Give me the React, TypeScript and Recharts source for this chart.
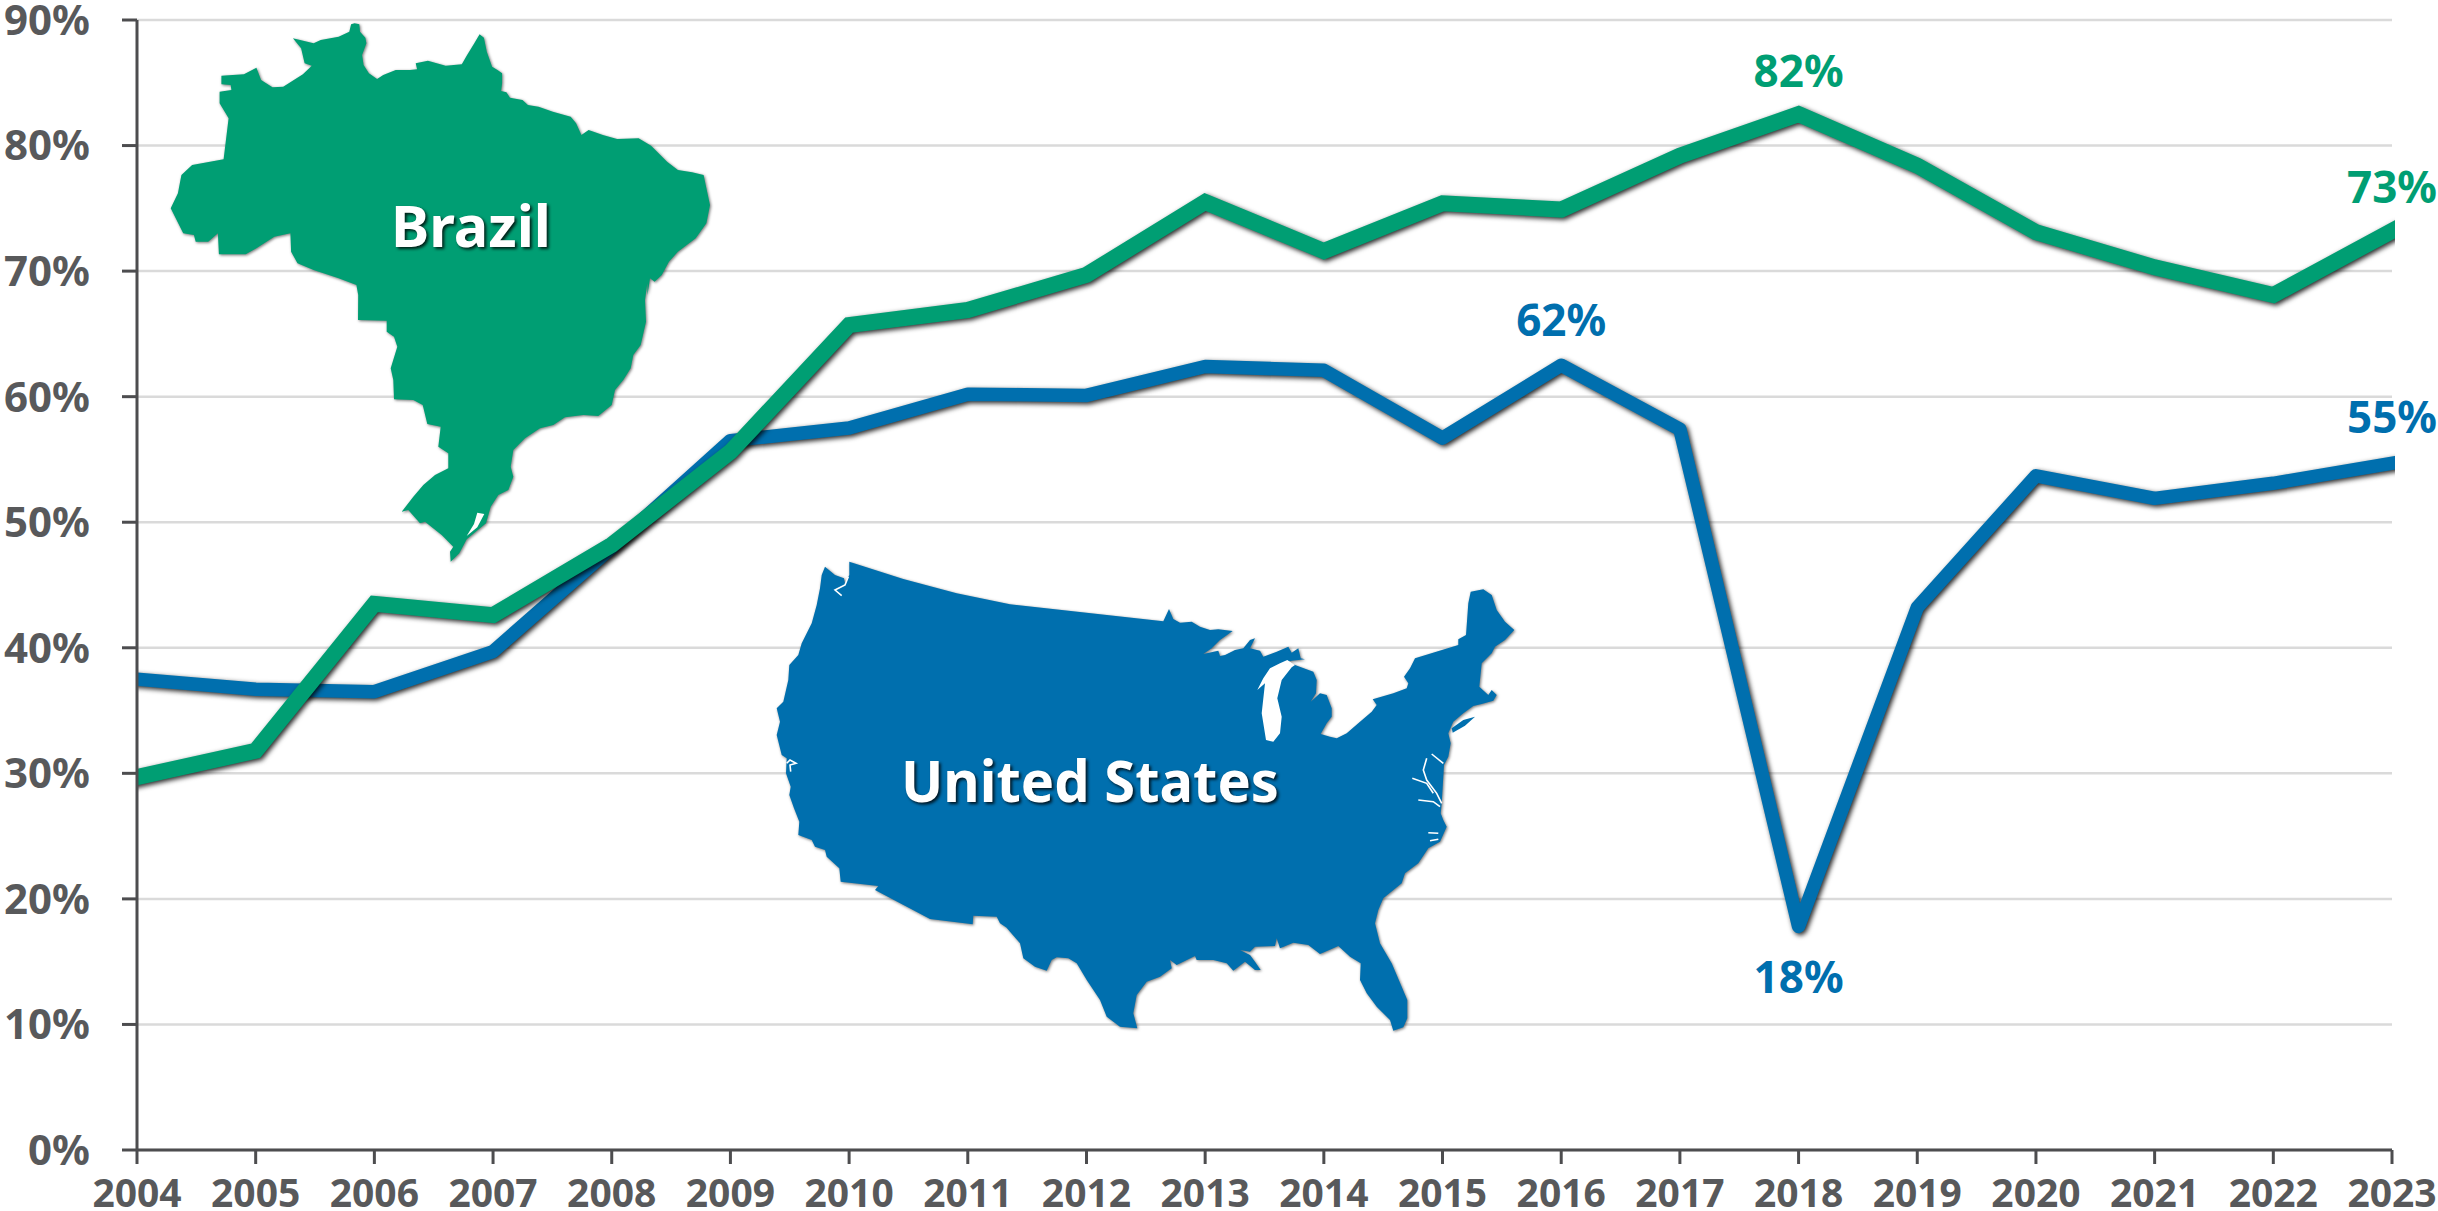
import React from 'react'
import { LineChart, Line, XAxis, YAxis, CartesianGrid, Customized } from 'recharts'

const years = [2004, 2005, 2006, 2007, 2008, 2009, 2010, 2011, 2012, 2013, 2014, 2015, 2016, 2017, 2018, 2019, 2020, 2021, 2022, 2023]
const unitedStates = [37.5, 36.7, 36.5, 39.7, 48, 56.5, 57.5, 60.2, 60.1, 62.4, 62.1, 56.7, 62.5, 57.4, 17.8, 43.2, 53.7, 51.9, 53.1, 54.7]
const brazil = [29.7, 31.8, 43.5, 42.6, 48.2, 55.6, 65.7, 66.9, 69.7, 75.5, 71.6, 75.4, 74.9, 79.2, 82.5, 78.4, 73.1, 70.3, 68.1, 73.2]
const yTicks = [0, 10, 20, 30, 40, 50, 60, 70, 80, 90]

// year -> label, with distance of the baseline from the point
const brazilLabels: Record<number, [string, number]> = { 2018: ['82%', -27], 2023: ['73%', -28] }
const usLabels: Record<number, [string, number]> = { 2016: ['62%', -29], 2018: ['18%', 66], 2023: ['55%', -30] }

const GREEN = '#009e73'
const BLUE = '#006fae'
const GREY = '#58595b'
const AXIS = '#4d4d4f'
const FONT = '"Noto Sans", sans-serif'
const LINE_SHADOW = 'drop-shadow(2.5px 2.5px 2.5px rgba(0,0,0,0.85))'
const TEXT_SHADOW = 'drop-shadow(2px 2px 1.5px rgba(0,0,0,0.8))'
const MAP_SHADOW = 'drop-shadow(1px 1px 1.5px rgba(0,0,0,0.55))'

const data = years.map((year, i) => ({ year, us: unitedStates[i], brazil: brazil[i] }))

type Pts = number[][]

const crop = (pts: Pts, sx: number, sy: number, ox: number, oy: number): Pts =>
  pts.map(([x, y]) => [x / sx + ox, y / sy + oy])
const toPath = (pts: Pts, close = true) =>
  pts.map(([x, y], i) => `${i ? 'L' : 'M'}${x.toFixed(1)} ${y.toFixed(1)}`).join('') + (close ? 'Z' : '')

const brNorthEast = [
  [535, 28], [545, 25], [558, 28], [560, 50], [575, 68], [578, 85], [566, 120], [570, 150], [585, 175], [608, 192],
  [625, 180], [660, 165], [700, 165], [720, 163], [716, 145], [750, 137], [775, 145], [800, 152], [845, 148], [860, 120],
  [880, 85], [895, 58], [907, 68], [915, 110], [930, 155], [945, 165], [958, 175], [958, 205], [955, 228], [970, 232],
  [980, 248], [1015, 255], [1030, 270], [1060, 275], [1100, 290], [1150, 305], [1165, 325], [1180, 360], [1200, 345], [1240, 360],
  [1280, 372], [1340, 370], [1375, 392], [1420, 440], [1450, 465], [1490, 472], [1522, 480], [1530, 520], [1540, 570], [1530, 625],
  [1500, 670], [1450, 710], [1425, 740], [1405, 780], [1385, 800], [1372, 790], [1365, 840],
]
const brSouth = [
  [832, 10], [825, 60], [828, 125], [812, 195], [790, 225], [782, 265], [760, 300], [735, 330], [725, 375], [685, 408],
  [640, 405], [585, 412], [550, 435], [510, 445], [465, 475], [430, 510], [422, 560], [430, 590], [415, 630], [385, 645],
  [362, 680], [348, 730], [290, 778], [268, 820], [242, 845], [240, 815], [250, 800], [215, 765], [165, 725], [150, 730],
  [115, 690], [95, 695], [130, 650], [160, 615], [195, 585], [235, 565], [235, 520], [205, 500], [212, 440], [172, 432],
  [158, 375], [130, 360], [72, 358], [70, 300], [62, 265], [82, 200], [72, 170], [50, 155], [50, 122], [-36, 120],
]
const brNorthWest = [
  [555, 840], [550, 810], [500, 790], [430, 765], [385, 745], [367, 710], [365, 655], [320, 665], [270, 700], [240, 718],
  [165, 718], [162, 655], [135, 680], [100, 680], [95, 660], [65, 655], [30, 580], [50, 535], [60, 480], [90, 450],
  [178, 433], [192, 310], [167, 265], [167, 230], [200, 225], [198, 210], [172, 208], [172, 182], [235, 178], [270, 158],
  [283, 195], [315, 217], [345, 215], [400, 178], [425, 152], [405, 145], [395, 100], [372, 70], [430, 85], [450, 75],
  [500, 65], [530, 50],
]
const brLagoon = [[322, 698], [343, 702], [322, 742], [290, 768], [312, 732]]

const usNorthEast = [
  [0, 128], [35, 125], [60, 140], [90, 150], [115, 148], [158, 153], [120, 180], [95, 205], [70, 222], [115, 212],
  [120, 228], [135, 225], [165, 210], [190, 205], [210, 180], [225, 175], [210, 205], [240, 212], [250, 230], [290, 215],
  [325, 200], [335, 218], [355, 205], [362, 235], [375, 238], [335, 242], [322, 245], [345, 255], [400, 275], [410, 300],
  [408, 340], [392, 365], [420, 340], [440, 345], [455, 385], [455, 410], [440, 430], [422, 462], [450, 470], [470, 475],
  [500, 460], [540, 425], [575, 395], [590, 375], [578, 358], [640, 340], [680, 325], [685, 310], [672, 290], [690, 265],
  [705, 235], [835, 195], [835, 178], [858, 165], [865, 70], [872, 35], [910, 28], [935, 45], [950, 90], [975, 125],
  [1003, 150], [975, 180], [945, 200], [935, 220], [905, 250], [898, 320], [925, 345], [935, 330], [950, 345], [940, 362],
  [905, 372], [880, 378], [850, 400], [820, 425], [805, 460], [812, 490], [805, 530], [792, 555], [788, 620], [785, 670], [782, 700],
]
const usSouth = [
  [1330, 0], [1340, 20], [1320, 65], [1285, 85], [1255, 130], [1215, 160], [1205, 190], [1150, 235], [1135, 270], [1125, 310],
  [1140, 370], [1175, 430], [1205, 500], [1222, 540], [1222, 595], [1210, 622], [1180, 632], [1170, 600], [1130, 560], [1100, 520],
  [1080, 480], [1082, 430], [1050, 410], [1015, 378], [1000, 385], [960, 402], [925, 375], [880, 368], [840, 385], [830, 355],
  [825, 378], [765, 380], [750, 395], [720, 390], [750, 405], [765, 425], [782, 450], [765, 450], [735, 425], [700, 452],
  [680, 430], [640, 420], [590, 420], [585, 408], [530, 435], [510, 420], [515, 445], [480, 470], [440, 485], [410, 525],
  [400, 580], [412, 625], [360, 620], [320, 590], [300, 540], [260, 480], [230, 430], [205, 415], [170, 412], [155, 420],
  [140, 452], [105, 440], [70, 415], [60, 370], [30, 335], [0, 300],
]
const usWest = [
  [720, 1125], [690, 1105], [680, 1085], [610, 1082], [608, 1108], [480, 1092], [315, 1005], [325, 993], [212, 980], [208, 940],
  [170, 905], [165, 885], [135, 875], [125, 855], [85, 840], [88, 800], [72, 760], [58, 720], [62, 695], [48, 655],
  [50, 610], [35, 600], [20, 540], [30, 500], [20, 460], [40, 440], [55, 375], [58, 330], [85, 300], [95, 265],
  [125, 205], [140, 150], [150, 100], [155, 60], [165, 35], [195, 60], [222, 70], [225, 85], [238, 60], [238, 20],
  [400, 72], [560, 115], [720, 148], [1180, 199], [1197, 162], [1210, 192],
]
const lakeMichigan = [
  [322, 240], [300, 250], [270, 265], [250, 295], [232, 330], [255, 310], [245, 400], [258, 480], [280, 485], [300, 460],
  [305, 410], [292, 355], [305, 300], [335, 262], [345, 255],
]
const longIsland = [[815, 445], [850, 420], [885, 410], [855, 437], [818, 458]]
const pugetSound = [[235, 65], [225, 90], [195, 105], [215, 122]]
const sanFrancisco = [[50, 625], [60, 615], [78, 625], [60, 630], [62, 650]]
const bays = [
  [[740, 535], [730, 570], [740, 600], [770, 640], [785, 670]],
  [[697, 595], [740, 610], [760, 640]],
  [[715, 660], [760, 665], [780, 680]],
  [[755, 522], [790, 550]],
]
const carolinaInlets = [
  [[1285, 38], [1315, 40]],
  [[1290, 62], [1315, 58]],
]

const brazilOutline = [
  ...crop(brNorthEast, 2.8, 3, 160, 15),
  ...crop(brSouth, 3, 3, 370, 280),
  ...crop(brNorthWest, 2.8, 3, 160, 15),
]
const usOutline = [
  ...crop(usNorthEast, 3, 3, 1180, 580),
  ...crop(usSouth, 3, 3, 1000, 820),
  ...crop(usWest, 3, 3, 770, 555),
]

const Bay = ({ pts }: { pts: Pts }) => <path d={toPath(pts, false)} fill="none" stroke="#fff" strokeWidth={1.6} />

function MapLayer() {
  return (
    <g>
      <defs>
        <clipPath id="plotClip">
          <rect x={137} y={0} width={2258} height={1211} />
        </clipPath>
      </defs>
      <path d={toPath(brazilOutline)} fill={GREEN} style={{ filter: MAP_SHADOW }} />
      <path d={toPath(crop(brLagoon, 3, 3, 370, 280))} fill="#fff" />
      <path d={toPath(usOutline)} fill={BLUE} style={{ filter: MAP_SHADOW }} />
      <path d={toPath(crop(lakeMichigan, 3, 3, 1180, 580))} fill="#fff" />
      <path d={toPath(crop(longIsland, 3, 3, 1180, 580))} fill={BLUE} />
      <Bay pts={crop(pugetSound, 3, 3, 770, 555)} />
      <Bay pts={crop(sanFrancisco, 3, 3, 770, 555)} />
      {bays.map((b, i) => <Bay key={i} pts={crop(b, 3, 3, 1180, 580)} />)}
      {carolinaInlets.map((b, i) => <Bay key={i} pts={crop(b, 3, 3, 1000, 820)} />)}
      <text x={391} y={247} textLength={160} lengthAdjust="spacingAndGlyphs" fontFamily={FONT} fontWeight={700} fontSize={58} fill="#fff" style={{ filter: TEXT_SHADOW }}>
        Brazil
      </text>
      <text x={901} y={801.5} textLength={378} lengthAdjust="spacingAndGlyphs" fontFamily={FONT} fontWeight={700} fontSize={58} fill="#fff" style={{ filter: TEXT_SHADOW }}>
        United States
      </text>
    </g>
  )
}

const pointLabel = (labels: Record<number, [string, number]>, color: string) => (props: any) => {
  const entry = labels[years[props.index]]
  if (!entry) return <g key={props.index} />
  return (
    <text key={props.index} x={props.x} y={props.y + entry[1]} textAnchor="middle" fontFamily={FONT} fontWeight={700} fontSize={44} fill={color}>
      {entry[0]}
    </text>
  )
}

const lineStyle = { filter: LINE_SHADOW, clipPath: 'url(#plotClip)' }

export default function App() {
  return (
    <div style={{ position: 'absolute', left: 0, top: 0, width: 2438, height: 1211, overflow: 'hidden', background: '#fff' }}>
      <LineChart width={2438} height={1211} data={data} margin={{ top: 20, right: 46, bottom: 0, left: 0 }}>
        <CartesianGrid vertical={false} stroke="#dadada" strokeWidth={2.5} />
        <XAxis
          dataKey="year"
          interval={0}
          height={61}
          tickSize={14}
          tickMargin={15}
          tick={{ fontFamily: FONT, fontWeight: 700, fontSize: 39, fill: GREY }}
          axisLine={{ stroke: AXIS, strokeWidth: 3 }}
          tickLine={{ stroke: AXIS, strokeWidth: 3 }}
        />
        <YAxis
          width={137}
          domain={[0, 90]}
          ticks={yTicks}
          interval={0}
          tickSize={15}
          tickMargin={32}
          tickFormatter={(v: number) => `${v}%`}
          tick={{ fontFamily: FONT, fontWeight: 700, fontSize: 42, fill: GREY }}
          axisLine={{ stroke: AXIS, strokeWidth: 3 }}
          tickLine={{ stroke: AXIS, strokeWidth: 3 }}
        />
        <Customized component={<MapLayer />} />
        <Line
          dataKey="us"
          stroke={BLUE}
          strokeWidth={13.5}
          strokeLinejoin="round"
          strokeLinecap="square"
          dot={false}
          type="linear"
          isAnimationActive={false}
          style={lineStyle}
          label={pointLabel(usLabels, BLUE)}
        />
        <Line
          dataKey="brazil"
          stroke={GREEN}
          strokeWidth={16}
          strokeLinejoin="miter"
          strokeLinecap="square"
          dot={false}
          type="linear"
          isAnimationActive={false}
          style={lineStyle}
          label={pointLabel(brazilLabels, GREEN)}
        />
      </LineChart>
    </div>
  )
}
